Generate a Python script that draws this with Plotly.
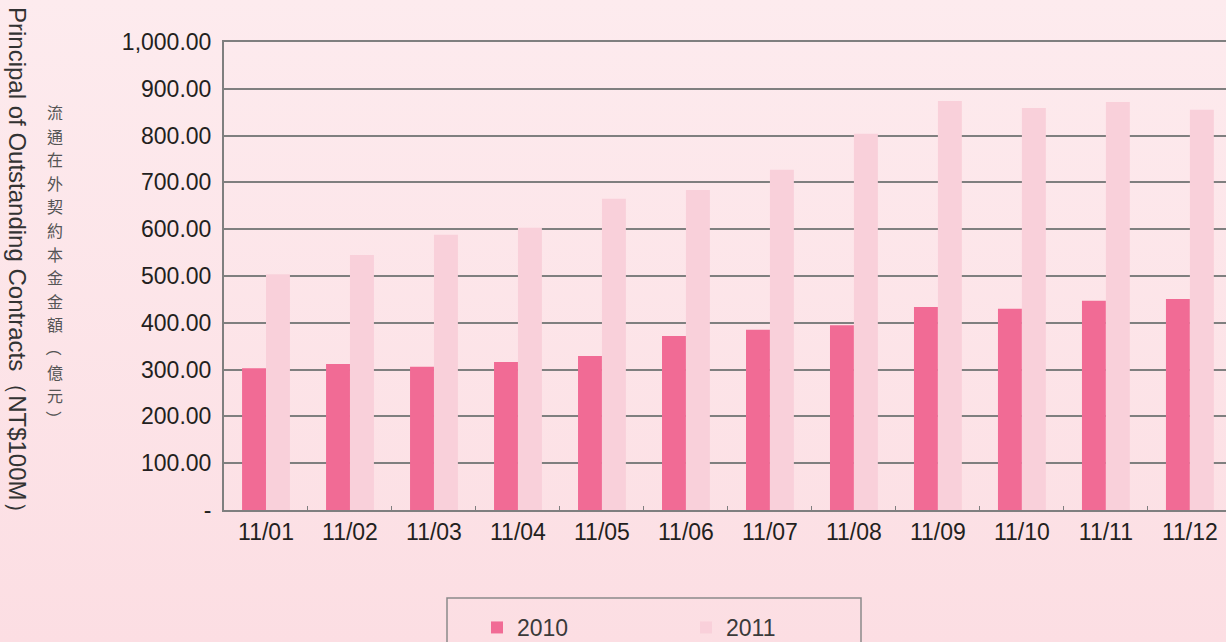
import plotly.graph_objects as go
import urllib.parse

months = ["11/01", "11/02", "11/03", "11/04", "11/05", "11/06",
          "11/07", "11/08", "11/09", "11/10", "11/11", "11/12"]
values_2010 = [303, 312, 306, 316, 329, 372, 385, 395, 434, 430, 447, 451]
values_2011 = [504, 545, 588, 603, 665, 684, 727, 804, 874, 859, 872, 855]
y_ticks = [0, 100, 200, 300, 400, 500, 600, 700, 800, 900, 1000]
y_tick_labels = ["-", "100.00", "200.00", "300.00", "400.00", "500.00",
                 "600.00", "700.00", "800.00", "900.00", "1,000.00"]
title_en = "Principal of Outstanding Contracts（NT$100M）"
title_zh = "流通在外契約本金金額（億元）"

FONT = "Liberation Sans, Arial, sans-serif"
W, H = 1226, 642
L, R, T, B = 224, 0, 42, 132
PW, PH = W - L - R, H - T - B


def px(xp):
    return (xp - L) / PW


def py(yp):
    return (H - B - yp) / PH


fig = go.Figure()
fig.add_trace(go.Bar(x=months, y=values_2010, name="2010",
                     marker=dict(color="#f16b95", line=dict(width=0))))
fig.add_trace(go.Bar(x=months, y=values_2011, name="2011",
                     marker=dict(color="#f9d0da", line=dict(width=0))))

svg = ('<svg xmlns="http://www.w3.org/2000/svg" width="100" height="100" preserveAspectRatio="none">'
       '<defs><linearGradient id="g" x1="0" y1="0" x2="0" y2="1">'
       '<stop offset="0" stop-color="#fdebee"/><stop offset="1" stop-color="#fcdee3"/>'
       '</linearGradient></defs><rect width="100" height="100" fill="url(#g)"/></svg>')
bg_src = "data:image/svg+xml;charset=utf-8," + urllib.parse.quote(svg)

fig.update_layout(
    width=W, height=H,
    margin=dict(l=L, r=R, t=T, b=B, autoexpand=False),
    paper_bgcolor="#fce4e8",
    plot_bgcolor="#ffffff",
    barmode="group",
    bargap=0.43,
    bargroupgap=0,
    font=dict(family=FONT, size=23, color="#231f20"),
    showlegend=True,
    legend=dict(orientation="h", xref="container", yref="container",
                x=477 / W, xanchor="left", y=(H - 606) / H, yanchor="top",
                bgcolor="rgba(0,0,0,0)", borderwidth=0,
                font=dict(size=23, color="#3a3a3a"), entrywidth=164,
                itemwidth=30),
    xaxis=dict(range=[-0.5, 11.43], autorange=False, showgrid=False,
               showline=True, mirror=True, linecolor="#7f7f7f", linewidth=2,
               ticks="inside", tickson="boundaries", ticklen=4, tickcolor="#7f7f7f",
               tickfont=dict(size=23, color="#231f20"), automargin=False),
    yaxis=dict(range=[0, 1000], autorange=False, tickvals=y_ticks, ticktext=y_tick_labels,
               showgrid=True, gridcolor="#7f7f7f", gridwidth=1.5,
               showline=True, linecolor="#7f7f7f", linewidth=2,
               ticks="", ticklabelstandoff=6, automargin=False,
               tickfont=dict(size=23, color="#231f20"), zeroline=False),
    images=[dict(source=bg_src, xref="paper", yref="paper",
                 x=px(0), y=py(0), sizex=W / PW, sizey=H / PH,
                 xanchor="left", yanchor="top", sizing="stretch", layer="below")],
)

# legend box (extends below the visible page)
fig.add_shape(type="rect", xref="paper", yref="paper",
              x0=px(447), x1=px(861), y0=py(598), y1=py(700),
              line=dict(color="#8a8a8a", width=1.5), fillcolor="rgba(0,0,0,0)", layer="above")

# English axis title (rotated, reading top to bottom)
fig.add_annotation(text=title_en,
                   xref="paper", yref="paper", x=px(18), y=py(266),
                   showarrow=False, textangle=90, xanchor="center", yanchor="middle",
                   font=dict(family=FONT, size=24, color="#333333"))

# Chinese axis title (vertical, upright characters)
step = 23.6
y0 = 112
for i, ch in enumerate(title_zh):
    ang = 90 if ch in "（）" else 0
    fig.add_annotation(text=ch, xref="paper", yref="paper",
                       x=px(55), y=py(y0 + i * step),
                       showarrow=False, textangle=ang, xanchor="center", yanchor="middle",
                       font=dict(family="Noto Sans CJK TC", size=16, color="#555555"))

fig.write_html("out.html", config={"displayModeBar": False},
               post_script="document.body.style.margin='0';document.body.style.overflow='hidden';")
